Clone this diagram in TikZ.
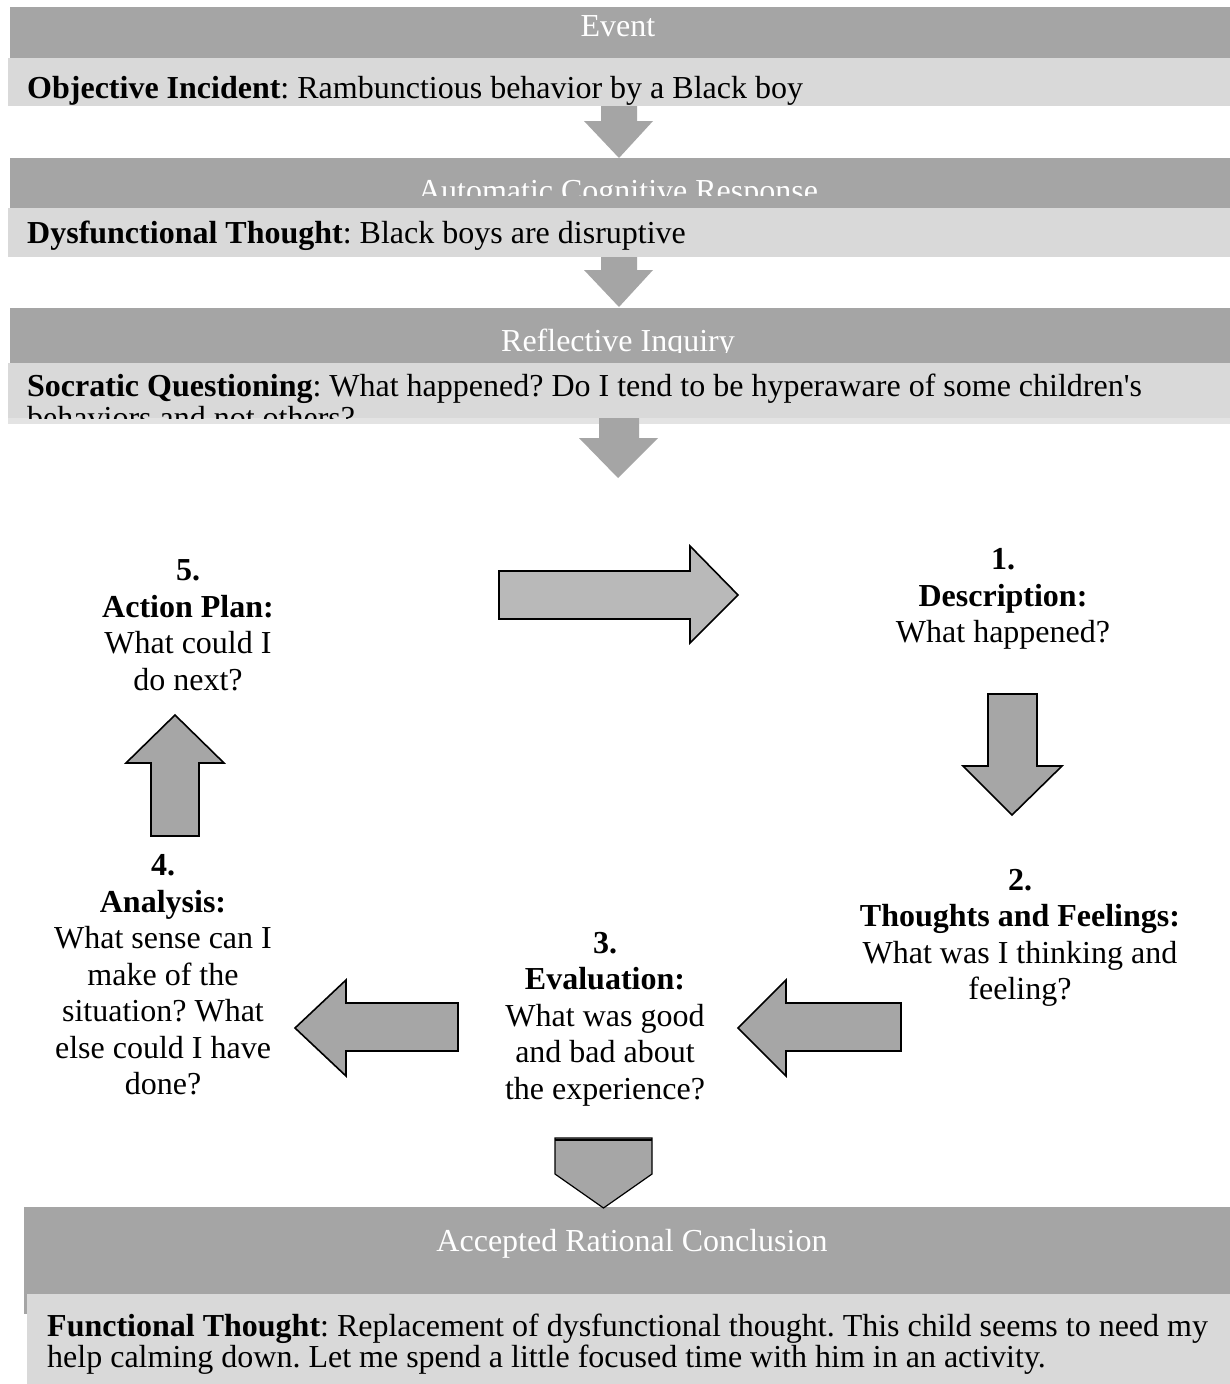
\documentclass[tikz,border=0pt]{standalone}
\usepackage{fontspec}
\setmainfont{Liberation Serif}
\definecolor{bandgray}{HTML}{A5A5A5}
\definecolor{lightbox}{HTML}{D9D9D9}
\definecolor{lightstrip}{HTML}{E3E3E3}
\definecolor{arrowgray}{HTML}{A6A6A6}
\definecolor{arrowlight}{HTML}{B9B9B9}
\begin{document}
\frenchspacing
\begin{tikzpicture}[x=1pt,y=-1pt,
  band/.style={fill=bandgray,draw=none},
  lbox/.style={fill=lightbox,draw=none},
  flowarrow/.style={fill=bandgray,draw=none},
  blockarrow/.style={draw=black,line width=1.6pt,fill=arrowgray,line join=miter},
  titletext/.style={text=white,inner sep=0pt,anchor=base,font=\fontsize{32}{36}\selectfont},
  bodytext/.style={inner sep=0pt,anchor=base west,align=left,font=\fontsize{32}{32}\selectfont},
  stagetext/.style={inner sep=0pt,align=center,font=\fontsize{32}{36.5}\selectfont}]
\useasboundingbox (0,0) rectangle (1230,1384);
\fill[white] (0,0) rectangle (1230,1384);

% ---- Event ----
\fill[band] (10,7) rectangle (1230,58);
\fill[lbox] (8,58) rectangle (1230,106);
\node[titletext] (event) at (618,36) {Event};
\node[bodytext] (incident) at (27,98) {\textbf{Objective Incident}: Rambunctious behavior by a Black boy};

% ---- Automatic Cognitive Response ----
\fill[band] (10,158) rectangle (1230,208);
\fill[lbox] (8,208) rectangle (1230,257);
\begin{scope}
  \clip (10,158) rectangle (1230,195);
  \node[titletext] (acr) at (618,201) {Automatic Cognitive Response};
\end{scope}
\node[bodytext] (dysf) at (27,243) {\textbf{Dysfunctional Thought}: Black boys are disruptive};

% ---- Reflective Inquiry ----
\fill[band] (10,308) rectangle (1230,363);
\fill[lbox] (8,363) rectangle (1230,418);
\fill[lightstrip] (8,418) rectangle (1230,424);
\begin{scope}
  \clip (10,308) rectangle (1230,352);
  \node[titletext] (ri) at (618,351) {Reflective Inquiry};
\end{scope}
\begin{scope}
  \clip (8,363) rectangle (1230,418);
  \node[bodytext] (socr) at (27,428) {\textbf{Socratic Questioning}: What happened? Do I tend to be hyperaware of some children\textquotesingle s\\behaviors and not others?};
\end{scope}

% ---- flow arrows (top) ----
\fill[flowarrow] (601,106) -- (637,106) -- (637,121) -- (653,121) -- (619,158) -- (584,121) -- (601,121) -- cycle;
\fill[flowarrow] (601,257) -- (637,257) -- (637,270) -- (653,270) -- (619,307) -- (584,270) -- (601,270) -- cycle;
\fill[flowarrow] (599,418) -- (639,418) -- (639,438) -- (658,438) -- (618,478) -- (579,438) -- (599,438) -- cycle;

% ---- cycle stages ----
\node[stagetext] (s5) at (188,625) {\textbf{5.}\\\textbf{Action Plan:}\\What could I\\do next?};
\node[stagetext] (s1) at (1003,599) {\textbf{1.}\\\textbf{Description:}\\What happened?};
\node[stagetext] (s2) at (1020,938) {\textbf{2.}\\\textbf{Thoughts and Feelings:}\\What was I thinking and\\feeling?};
\node[stagetext] (s3) at (605,1019) {\textbf{3.}\\\textbf{Evaluation:}\\What was good\\and bad about\\the experience?};
\node[stagetext] (s4) at (163,975) {\textbf{4.}\\\textbf{Analysis:}\\What sense can I\\make of the\\situation? What\\else could I have\\done?};

% ---- block arrows ----
% 5 -> 1
\draw[blockarrow,fill=arrowlight] (499,571) -- (690,571) -- (690,546) -- (738,595) -- (690,643) -- (690,619) -- (499,619) -- cycle;
% 1 -> 2
\draw[blockarrow] (988,694) -- (1037,694) -- (1037,766) -- (1062,766) -- (1012,815) -- (963,766) -- (988,766) -- cycle;
% 2 -> 3
\draw[blockarrow] (901,1003) -- (786,1003) -- (786,980) -- (738,1028) -- (786,1076) -- (786,1051) -- (901,1051) -- cycle;
% 3 -> 4
\draw[blockarrow] (458,1003) -- (346,1003) -- (346,980) -- (295,1028) -- (346,1076) -- (346,1051) -- (458,1051) -- cycle;
% 4 -> 5
\draw[blockarrow] (151,836) -- (151,763) -- (126,763) -- (175,715) -- (224,763) -- (199,763) -- (199,836) -- cycle;

% ---- Accepted Rational Conclusion ----
\fill[band] (24,1207) rectangle (1230,1314);
\fill[lbox] (27,1294) rectangle (1230,1384);
\draw[blockarrow,line width=1.2pt] (555,1138) -- (652,1138) -- (652,1174) -- (603.5,1208) -- (555,1174) -- cycle;
\draw[line width=1.2pt] (555,1140) -- (652,1140);
\node[titletext] (arc) at (632,1251) {Accepted Rational Conclusion};
\node[bodytext,font=\fontsize{32}{31}\selectfont] (func) at (47,1367) {\textbf{Functional Thought}: Replacement of dysfunctional thought. This child seems to need my\\help calming down. Let me spend a little focused time with him in an activity.};
\end{tikzpicture}
\end{document}
